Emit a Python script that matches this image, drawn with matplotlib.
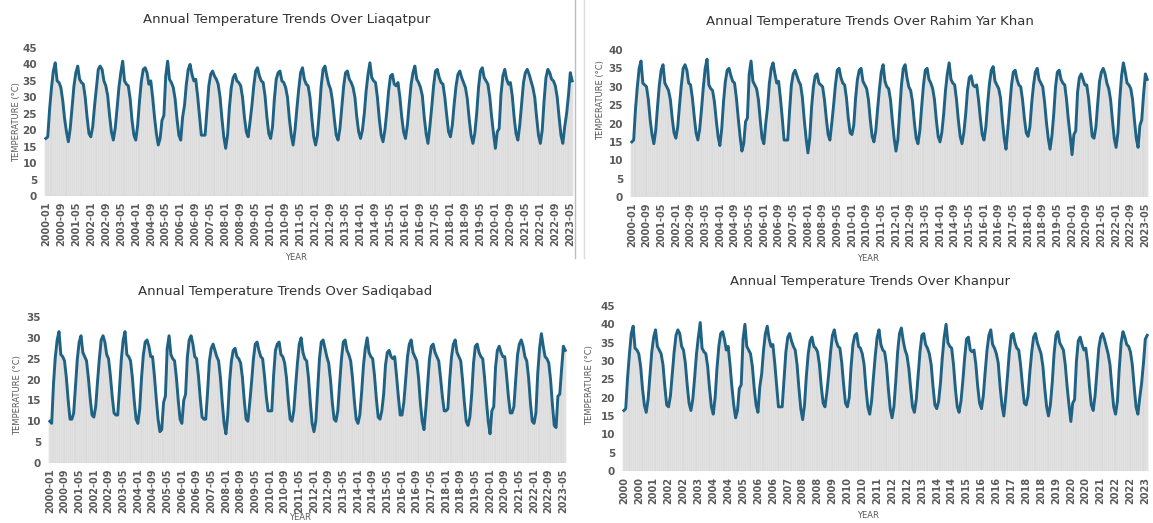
"""
Annual temperature trends (monthly means, 2000-2023) for four
districts: Liaqatpur, Rahim Yar Khan, Sadiqabad and Khanpur.
"""

import matplotlib.pyplot as plt
import numpy as np
from matplotlib.lines import Line2D

# --- Data: monthly mean temperature (deg C), one row per year ---
liaqatpur = [
    [17.5, 18.0, 26.5, 33.0, 38.0, 40.5, 35.0, 34.5, 33.0, 29.0, 23.5, 19.5],
    [16.5, 20.5, 27.0, 33.5, 37.5, 39.5, 35.5, 34.5, 34.0, 30.0, 24.0, 19.0],
    [18.0, 21.0, 27.5, 33.0, 38.5, 39.5, 38.5, 35.0, 33.5, 30.5, 24.5, 19.5],
    [17.0, 20.5, 26.5, 33.0, 37.5, 41.0, 35.0, 34.0, 33.5, 29.5, 23.0, 18.5],
    [17.0, 21.5, 29.0, 35.0, 38.5, 39.0, 37.5, 34.0, 35.0, 30.0, 24.0, 19.0],
    [15.5, 17.5, 23.0, 24.5, 36.5, 41.0, 35.5, 34.5, 33.0, 29.5, 23.5, 18.5],
    [17.0, 24.0, 27.5, 34.0, 38.5, 40.0, 37.0, 35.0, 35.5, 30.5, 24.5, 18.5],
    [18.5, 18.5, 26.0, 33.5, 37.0, 38.0, 36.5, 35.5, 34.0, 30.0, 23.5, 18.0],
    [14.5, 18.5, 27.0, 33.0, 36.0, 37.0, 35.0, 34.5, 33.5, 30.0, 24.0, 19.5],
    [18.0, 22.5, 27.5, 33.5, 38.0, 39.0, 36.5, 35.0, 34.5, 30.5, 24.0, 19.0],
    [17.5, 21.0, 29.5, 35.5, 37.5, 38.0, 35.0, 34.5, 33.0, 30.0, 23.5, 18.5],
    [15.5, 20.0, 26.5, 32.5, 37.5, 39.0, 35.5, 34.0, 33.5, 30.0, 23.5, 18.0],
    [15.5, 18.5, 25.5, 33.5, 38.5, 39.5, 36.5, 34.0, 32.5, 29.0, 23.5, 18.5],
    [17.0, 20.5, 27.0, 33.5, 37.5, 38.0, 35.5, 34.5, 33.0, 30.0, 24.0, 19.5],
    [17.5, 20.0, 25.0, 32.0, 37.0, 40.5, 36.0, 35.0, 34.5, 30.0, 23.5, 18.5],
    [16.5, 20.0, 25.5, 32.0, 36.5, 37.0, 34.0, 33.5, 34.5, 30.0, 24.0, 19.5],
    [17.5, 21.5, 28.0, 34.0, 37.5, 39.5, 35.5, 34.5, 33.0, 30.5, 24.0, 19.0],
    [16.0, 21.0, 27.0, 33.5, 38.0, 38.5, 36.0, 34.5, 34.0, 30.0, 24.5, 19.5],
    [18.0, 21.5, 28.0, 33.5, 37.0, 38.0, 36.0, 34.5, 33.0, 29.5, 23.5, 18.5],
    [16.0, 19.0, 25.0, 33.0, 38.0, 39.0, 36.0, 35.0, 34.0, 30.0, 24.0, 19.0],
    [14.5, 19.5, 20.5, 31.0, 36.5, 38.5, 35.5, 34.0, 34.5, 30.5, 24.0, 19.0],
    [17.0, 21.5, 28.0, 34.5, 37.5, 38.5, 37.0, 35.0, 33.0, 30.0, 24.0, 18.5],
    [16.0, 20.0, 29.0, 36.0, 38.5, 37.5, 35.5, 35.0, 33.5, 30.0, 24.0, 18.5],
    [16.0, 21.0, 25.0, 30.5, 37.5, 35.0],
]

rahim_yar_khan = [
    [15.0, 15.5, 24.0, 30.0, 35.0, 37.0, 31.0, 30.5, 30.0, 26.5, 21.0, 17.0],
    [14.5, 18.0, 24.5, 30.5, 34.5, 36.0, 31.0, 30.0, 29.0, 26.5, 21.5, 17.5],
    [16.0, 19.0, 25.0, 30.5, 35.0, 36.0, 34.5, 31.0, 30.5, 27.0, 22.0, 17.5],
    [15.5, 18.5, 24.0, 30.0, 35.0, 37.5, 30.5, 29.5, 29.0, 26.0, 21.0, 16.5],
    [14.0, 18.5, 26.0, 31.5, 34.5, 35.0, 33.0, 31.5, 31.0, 27.0, 21.5, 16.5],
    [12.5, 14.5, 20.5, 21.5, 33.5, 37.0, 31.5, 30.5, 29.5, 26.5, 21.0, 16.0],
    [14.5, 20.0, 24.5, 31.0, 35.0, 36.5, 33.5, 31.0, 31.5, 27.0, 21.5, 15.5],
    [15.5, 15.5, 23.5, 30.5, 33.5, 34.5, 33.0, 31.5, 30.5, 27.0, 21.0, 16.0],
    [12.0, 16.0, 24.5, 30.0, 33.0, 33.5, 31.0, 30.5, 30.0, 26.5, 21.5, 17.0],
    [15.5, 20.0, 25.0, 30.5, 34.5, 35.0, 32.5, 31.0, 30.5, 27.0, 21.5, 17.5],
    [17.0, 19.5, 27.0, 32.0, 34.5, 35.0, 31.5, 30.5, 29.5, 26.5, 21.0, 16.5],
    [15.0, 18.0, 24.0, 29.5, 34.0, 36.0, 31.5, 30.0, 29.5, 26.5, 21.0, 16.0],
    [12.5, 15.5, 23.0, 30.5, 35.0, 36.0, 32.5, 30.0, 29.0, 26.0, 20.5, 16.0],
    [14.5, 18.0, 24.5, 30.5, 34.5, 35.0, 32.0, 31.0, 29.5, 26.5, 21.0, 16.5],
    [15.0, 17.5, 22.5, 29.0, 33.5, 36.5, 32.0, 31.0, 30.5, 26.5, 21.0, 16.5],
    [14.5, 17.5, 22.5, 29.0, 32.5, 33.0, 30.5, 30.0, 30.5, 26.5, 21.5, 17.0],
    [15.5, 19.0, 25.5, 31.0, 34.5, 35.5, 31.5, 30.5, 29.5, 27.0, 21.0, 16.0],
    [13.0, 18.5, 24.5, 30.5, 34.0, 34.5, 32.0, 30.5, 30.0, 26.5, 21.5, 17.5],
    [16.5, 19.0, 25.5, 30.5, 34.0, 35.0, 32.0, 31.0, 30.0, 26.0, 20.5, 16.0],
    [13.0, 16.5, 22.5, 30.0, 34.0, 34.5, 32.0, 31.0, 30.5, 26.5, 21.0, 16.5],
    [11.5, 17.0, 18.0, 28.5, 32.5, 33.5, 32.0, 30.5, 30.5, 27.0, 21.5, 16.5],
    [16.0, 19.0, 25.5, 31.5, 34.0, 35.0, 33.5, 31.0, 29.5, 26.5, 21.0, 16.0],
    [13.5, 17.5, 26.5, 33.0, 36.5, 34.0, 31.0, 30.5, 29.5, 26.5, 21.0, 16.0],
    [13.5, 19.5, 21.0, 28.0, 33.5, 32.0],
]

sadiqabad = [
    [10.0, 9.5, 19.0, 25.5, 29.5, 31.5, 26.0, 25.5, 24.5, 20.5, 15.0, 10.5],
    [10.5, 12.0, 18.5, 25.0, 29.0, 30.5, 26.5, 25.5, 24.5, 20.5, 15.5, 11.5],
    [11.0, 13.5, 19.5, 25.0, 29.5, 30.5, 29.0, 26.0, 25.0, 21.0, 16.0, 12.0],
    [11.5, 11.5, 18.0, 25.0, 29.5, 31.5, 26.0, 25.5, 24.5, 20.5, 15.0, 10.5],
    [9.5, 13.0, 20.5, 26.0, 29.0, 29.5, 28.0, 25.5, 25.5, 21.0, 15.5, 10.5],
    [7.5, 8.0, 14.5, 16.0, 27.5, 30.5, 26.0, 25.0, 24.5, 20.5, 15.0, 10.5],
    [9.5, 15.0, 16.5, 25.5, 29.5, 30.5, 28.5, 25.5, 25.0, 21.0, 15.5, 11.0],
    [10.5, 10.5, 17.0, 24.5, 27.5, 28.5, 27.0, 25.5, 24.5, 20.5, 14.5, 9.5],
    [7.0, 11.5, 19.5, 24.5, 27.0, 27.5, 25.5, 25.0, 24.0, 20.5, 15.0, 10.5],
    [10.0, 14.5, 19.5, 25.0, 28.5, 29.0, 27.0, 25.5, 25.0, 21.0, 16.0, 12.5],
    [12.5, 12.5, 21.0, 27.0, 28.5, 29.0, 26.0, 25.5, 24.0, 20.5, 15.0, 10.5],
    [10.0, 12.5, 18.5, 24.0, 28.5, 30.0, 26.5, 25.0, 24.5, 20.5, 14.5, 9.5],
    [7.5, 10.0, 17.5, 25.0, 29.0, 29.5, 27.5, 25.5, 24.0, 20.0, 14.5, 10.5],
    [10.0, 12.5, 19.0, 25.0, 29.0, 29.5, 27.0, 26.0, 24.5, 20.5, 15.0, 10.5],
    [9.5, 11.5, 17.0, 23.5, 27.5, 30.0, 26.5, 25.5, 25.0, 21.0, 15.5, 11.0],
    [10.5, 12.5, 16.5, 23.5, 26.5, 27.0, 25.5, 25.0, 25.5, 21.0, 16.0, 11.5],
    [11.5, 14.5, 20.0, 25.5, 28.5, 29.5, 26.5, 25.5, 24.5, 20.5, 14.5, 10.0],
    [8.0, 13.0, 19.0, 25.0, 28.0, 28.5, 26.5, 25.5, 24.5, 20.5, 16.0, 12.5],
    [12.5, 13.0, 20.0, 25.5, 28.5, 29.5, 26.5, 25.5, 24.5, 20.0, 14.5, 10.0],
    [9.0, 11.0, 16.5, 24.0, 28.0, 28.5, 26.5, 25.5, 25.0, 20.5, 15.0, 10.0],
    [7.0, 12.5, 13.5, 23.0, 27.0, 28.0, 26.5, 25.5, 25.5, 21.0, 16.0, 12.0],
    [12.0, 13.5, 20.0, 26.0, 28.5, 29.5, 28.0, 25.5, 24.5, 20.5, 14.5, 10.0],
    [9.5, 12.0, 21.5, 27.5, 31.0, 28.0, 25.5, 25.0, 24.0, 20.0, 14.0, 9.0],
    [8.5, 16.0, 16.5, 22.5, 28.0, 27.0],
]

khanpur = [
    [16.5, 17.0, 25.5, 32.0, 37.5, 39.5, 33.5, 33.0, 32.0, 28.5, 22.5, 18.0],
    [16.0, 19.5, 26.0, 32.5, 36.5, 38.5, 34.0, 33.0, 32.0, 29.0, 23.0, 18.0],
    [17.5, 20.5, 26.5, 32.5, 37.0, 38.5, 37.5, 34.0, 33.0, 29.5, 23.5, 18.5],
    [16.5, 19.5, 25.5, 32.0, 36.5, 40.5, 33.5, 32.5, 32.0, 28.5, 22.5, 17.5],
    [15.5, 20.0, 28.0, 34.0, 37.5, 38.0, 36.0, 33.0, 34.0, 29.0, 23.0, 18.0],
    [14.5, 16.5, 22.5, 23.5, 36.0, 40.0, 34.0, 33.0, 32.0, 28.5, 22.5, 18.0],
    [16.0, 23.0, 26.5, 33.0, 37.5, 39.5, 36.0, 34.0, 34.5, 29.5, 23.5, 17.5],
    [17.5, 17.5, 25.0, 32.5, 36.5, 37.5, 35.5, 34.0, 33.0, 29.0, 22.5, 17.0],
    [14.0, 18.0, 26.0, 32.0, 35.5, 36.5, 34.0, 33.5, 32.5, 29.0, 23.0, 18.5],
    [17.5, 21.5, 26.5, 32.5, 37.0, 38.5, 35.5, 34.0, 33.5, 29.5, 23.5, 18.5],
    [17.5, 20.0, 28.5, 34.5, 37.0, 37.5, 34.0, 33.5, 32.0, 29.0, 22.5, 17.5],
    [15.5, 19.0, 25.5, 31.5, 36.5, 38.5, 34.5, 33.0, 32.5, 29.0, 22.5, 17.0],
    [14.5, 17.5, 24.5, 32.5, 37.5, 39.0, 35.5, 33.0, 31.5, 28.0, 22.5, 17.5],
    [16.0, 19.5, 26.0, 32.5, 37.0, 37.5, 34.5, 33.5, 32.0, 29.0, 23.0, 18.0],
    [17.0, 19.0, 24.0, 31.0, 36.5, 40.0, 35.0, 34.0, 33.5, 29.0, 22.5, 17.5],
    [16.0, 19.0, 24.5, 31.0, 36.0, 36.5, 33.0, 32.5, 33.0, 29.0, 23.0, 18.5],
    [17.0, 20.5, 27.0, 33.0, 37.0, 38.5, 34.5, 33.5, 32.0, 29.5, 23.0, 18.0],
    [15.0, 20.0, 26.0, 32.5, 37.0, 37.5, 35.0, 33.5, 33.0, 29.0, 23.5, 18.5],
    [18.0, 20.5, 27.0, 32.5, 36.5, 37.5, 35.0, 33.5, 32.0, 28.5, 22.5, 17.5],
    [15.0, 18.0, 24.0, 32.0, 37.0, 38.0, 35.0, 34.0, 33.0, 29.0, 23.0, 18.0],
    [13.5, 18.5, 19.5, 30.0, 35.5, 36.5, 34.5, 33.0, 33.5, 29.5, 23.0, 18.0],
    [16.5, 20.5, 27.0, 33.5, 36.5, 37.5, 36.0, 34.0, 32.0, 29.0, 23.0, 17.5],
    [15.5, 19.0, 28.0, 35.0, 38.0, 36.5, 34.5, 34.0, 32.5, 29.0, 23.0, 17.5],
    [15.5, 20.0, 24.0, 29.5, 36.0, 37.0],
]

START_YEAR = 2000
TICK_STEP = 8  # one label every 8 months

LINE_COLOR = "#1f6284"
FILL_COLOR = "#e6e6e6"
TEXT_COLOR = "#5a5a5a"

W, H = 1153, 523

plt.rcParams["font.family"] = ["DejaVu Sans"]


def px_box(x0, y_top, x1, y_bottom):
    """Pixel box (top-left origin) -> figure-fraction rect."""
    return [x0 / W, 1 - y_bottom / H, (x1 - x0) / W, (y_bottom - y_top) / H]


def draw_panel(rect, rows, title, title_xy, ylab_xy, year_xy, ymax, year_only):
    vals = np.concatenate([np.asarray(r, dtype=float) for r in rows])
    x = np.arange(len(vals))
    labels = [
        f"{START_YEAR + i // 12}" if year_only else f"{START_YEAR + i // 12}-{i % 12 + 1:02d}"
        for i in x
    ]

    ax = fig.add_axes(rect)
    ax.bar(x, vals, width=1.0, color=FILL_COLOR, edgecolor="#d4d4d4", linewidth=0.35)
    ax.plot(x, vals, color=LINE_COLOR, lw=2.1, solid_joinstyle="round")

    ax.set_xlim(-1, len(vals) + 0.5)
    ax.set_ylim(0, ymax)
    ax.set_yticks(np.arange(0, ymax + 1, 5))
    ax.set_xticks(x[::TICK_STEP])
    ax.set_xticklabels(labels[::TICK_STEP], rotation=90)
    ax.tick_params(axis="y", length=0, labelsize=7.5, labelcolor=TEXT_COLOR, pad=5)
    ax.tick_params(axis="x", length=0, labelsize=7, labelcolor=TEXT_COLOR, pad=4)
    for lab in ax.get_yticklabels() + ax.get_xticklabels():
        lab.set_fontweight("bold")
    for sp in ax.spines.values():
        sp.set_visible(False)

    fig.text(title_xy[0] / W, 1 - title_xy[1] / H, title, ha="center", va="center",
             fontsize=9.5, color="#333333")
    fig.text(ylab_xy[0] / W, 1 - ylab_xy[1] / H, "TEMPERATURE (°C)", rotation=90,
             ha="center", va="center", fontsize=6, color=TEXT_COLOR)
    fig.text(year_xy[0] / W, 1 - year_xy[1] / H, "YEAR", ha="center", va="center",
             fontsize=6, color=TEXT_COLOR)
    return ax


fig = plt.figure(figsize=(W / 100, H / 100), dpi=100)

draw_panel(px_box(44, 48, 575, 196), liaqatpur,
           "Annual Temperature Trends Over Liaqatpur",
           (287, 20), (17, 122), (296, 257), 45, False)
draw_panel(px_box(630, 50, 1150, 197), rahim_yar_khan,
           "Annual Temperature Trends Over Rahim Yar Khan",
           (870, 22), (601, 100), (868, 258), 40, False)
draw_panel(px_box(48, 317, 568, 463), sadiqabad,
           "Annual Temperature Trends Over Sadiqabad",
           (285, 292), (18, 395), (300, 518), 35, False)
draw_panel(px_box(622, 306, 1150, 471), khanpur,
           "Annual Temperature Trends Over Khanpur",
           (870, 282), (590, 385), (868, 515), 45, True)

# thin separators left over from the stitched screenshots
fig.add_artist(Line2D([575 / W, 575 / W], [1, 1 - 258 / H], color="#bdbdbd", lw=1.0))
fig.add_artist(Line2D([584 / W, 584 / W], [1, 1 - 258 / H], color="#dddddd", lw=1.0))

fig.savefig("out.png", dpi=100)
